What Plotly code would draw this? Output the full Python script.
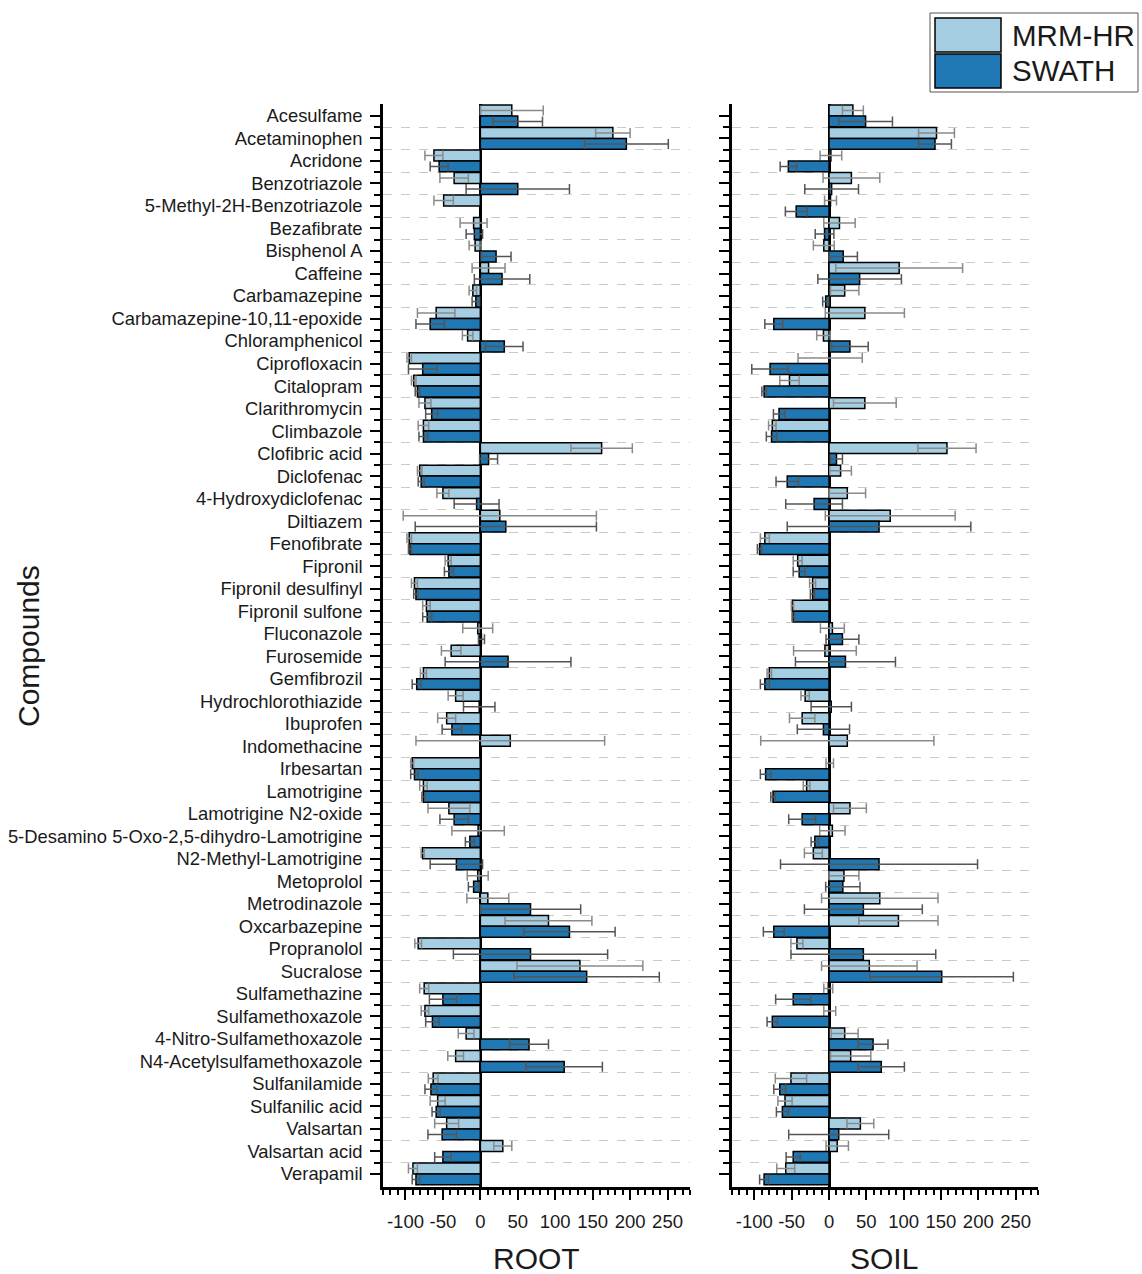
import plotly.graph_objects as go

# ---- data -------------------------------------------------------------
compounds = [
    "Acesulfame", "Acetaminophen", "Acridone", "Benzotriazole",
    "5-Methyl-2H-Benzotriazole", "Bezafibrate", "Bisphenol A", "Caffeine",
    "Carbamazepine", "Carbamazepine-10,11-epoxide", "Chloramphenicol",
    "Ciprofloxacin", "Citalopram", "Clarithromycin", "Climbazole",
    "Clofibric acid", "Diclofenac", "4-Hydroxydiclofenac", "Diltiazem",
    "Fenofibrate", "Fipronil", "Fipronil desulfinyl", "Fipronil sulfone",
    "Fluconazole", "Furosemide", "Gemfibrozil", "Hydrochlorothiazide",
    "Ibuprofen", "Indomethacine", "Irbesartan", "Lamotrigine",
    "Lamotrigine N2-oxide", "5-Desamino 5-Oxo-2,5-dihydro-Lamotrigine",
    "N2-Methyl-Lamotrigine", "Metoprolol", "Metrodinazole", "Oxcarbazepine",
    "Propranolol", "Sucralose", "Sulfamethazine", "Sulfamethoxazole",
    "4-Nitro-Sulfamethoxazole", "N4-Acetylsulfamethoxazole", "Sulfanilamide",
    "Sulfanilic acid", "Valsartan", "Valsartan acid", "Verapamil",
]

root_mrm = [42, 177, -62, -35, -49, -9, -7, 11, -10, -59, -17, -95, -89, -74,
            -76, 162, -81, -50, 26, -95, -43, -88, -72, -3.5, -39, -76, -33,
            -45, 40, -91, -76, -42, -3, -77, -3.5, 10, 91, -83, 133, -75, -74,
            -19, -33, -63, -57, -45, 30, -90]
root_mrm_err = [42, 23, 12, 19, 13, 18, 8, 22, 5, 25, 7, 3, 3, 8, 7, 41, 3, 8,
                129, 3, 4, 4, 5, 20, 13, 4, 10, 12, 126, 2, 5, 28, 35, 2, 14,
                28, 58, 4.5, 84, 6, 5, 10.5, 10.5, 6.5, 10, 16, 12, 6]
root_swath = [50, 195, -55, 50, None, -8, 21, 29, -6, -67, 32, -77, -84, -65,
              -76, 11, -79, -5, 34, -94, -42, -86, -71, 1.5, 37, -85, -1.5,
              -38, None, -88, -76, -35, -14, -32, -9, 67, 119, 67, 142, -50,
              -64, 65, 112, -66, -59, -51, -50, -86]
root_swath_err = [33, 56, 12, 69, None, 11, 20, 37, 5, 19, 25, 19, 3, 8, 6, 12,
                  4, 30, 121, 2, 6, 3, 6, 4, 84, 6, 21, 13, None, 5, 2, 19, 6,
                  35, 7, 67, 61, 103, 97, 18, 9, 26, 51, 8, 5.5, 19, 11, 5]

soil_mrm = [32, 144, 2.5, 30, 2, 14, -7, 94, 21, 48, -7.5, 1.5, -53, 48, -76,
            158, 15.5, 24.5, 82, -86, -42, -22, -49, 4.5, -5.5, -80, -32, -36,
            24.5, 1, -30, 28, 4.5, -21, 20, 68, 93, -43, 54, -1, 1, 21, 29,
            -51, -59, 42, 11, -58]
soil_mrm_err = [14, 24, 14.5, 38, 8, 21, 14, 85, 19, 53, 9, 43, 13, 42, 5, 39,
                14.5, 24.5, 87, 6, 6, 4, 1.5, 16, 42, 3, 5.6, 17, 116, 5, 4.5,
                22, 17, 12, 20, 78, 53, 8, 64, 6, 8, 18, 27, 21, 9.5, 18, 15, 12]
soil_swath = [49, 142, -54.5, 3.5, -44, -6, 19, 41, -4.5, -74, 28, -79, -87,
              -67, -77, 10, -56, -20, 67, -93, -40, -22, -48, 18, 22, -86, 3,
              -7.5, None, -85, -75, -36, -19, 67, 18.5, 46, -74, 46, 151, -48,
              -76, 59, 70, -66, -62.5, 13, -48, -87]
soil_swath_err = [36, 22, 11, 36, 14.5, 12.5, 19, 56, 4, 12, 24.5, 24.5, 3,
                  7.5, 7, 8, 15, 38, 123, 3, 8, 3, 1.5, 22, 67, 6, 27, 35, None,
                  7, 3, 18, 5, 132, 23, 79, 14, 97, 96, 23.5, 7, 20, 31, 8, 8,
                  67, 9.5, 6]

x_tick_values = [-100, -50, 0, 50, 100, 150, 200, 250]
x_tick_labels = ["-100", "-50", "0", "50", "100", "150", "200", "250"]
series_names = ["MRM-HR", "SWATH"]
panel_titles = ["ROOT", "SOIL"]

# ---- styling ----------------------------------------------------------
W, H = 1142, 1274
FONT = "Arial, 'Liberation Sans', sans-serif"
TEXT = "#1a1a1a"
MRM_COLOR = "#A6CEE3"
SWATH_COLOR = "#1F78B4"


def fx(p):
    return p / W


def fy(p):
    return 1 - p / H


ypos = list(range(len(compounds)))

fig = go.Figure()
panels = [
    ("x", "y", root_mrm, root_mrm_err, root_swath, root_swath_err),
    ("x2", "y2", soil_mrm, soil_mrm_err, soil_swath, soil_swath_err),
]
for xa, ya, m, me, s, se in panels:
    fig.add_trace(go.Bar(
        x=m, y=ypos, orientation="h", name=series_names[0],
        marker=dict(color=MRM_COLOR, line=dict(color="black", width=1.5)),
        error_x=dict(type="data", array=me, color="#8a8a8a",
                     thickness=1.5, width=5),
        xaxis=xa, yaxis=ya, offsetgroup="mrm", showlegend=False,
    ))
    fig.add_trace(go.Bar(
        x=s, y=ypos, orientation="h", name=series_names[1],
        marker=dict(color=SWATH_COLOR, line=dict(color="black", width=1.5)),
        error_x=dict(type="data", array=se, color="#555555",
                     thickness=1.5, width=5),
        xaxis=xa, yaxis=ya, offsetgroup="swath", showlegend=False,
    ))

xcommon = dict(
    range=[-130, 280], tickmode="array", tickvals=x_tick_values,
    ticktext=x_tick_labels, tickangle=0, ticks="outside", ticklen=10,
    tickwidth=2, tickcolor="black", showline=True, linewidth=2.5,
    linecolor="black", showgrid=False, zeroline=True, zerolinecolor="black",
    zerolinewidth=2.5, tickfont=dict(size=18.5, family=FONT, color=TEXT),
    ticklabelstandoff=6,
    minor=dict(tickmode="linear", tick0=0, dtick=10, ticks="outside",
               ticklen=5, tickwidth=1.5, tickcolor="black", showgrid=False),
    automargin=False, fixedrange=True,
)
ycommon = dict(
    range=[47.58, -0.53], tickmode="array", tickvals=ypos, ticktext=compounds,
    ticks="outside", ticklen=10, tickwidth=2, tickcolor="black",
    showline=True, linewidth=2.5, linecolor="black", showgrid=False,
    zeroline=False, tickfont=dict(size=18.4, family=FONT, color=TEXT),
    minor=dict(tickmode="array", tickvals=[i + 0.5 for i in range(47)],
               ticks="outside", ticklen=6, tickwidth=1.5, tickcolor="black",
               showgrid=True, griddash="dash", gridcolor="#c9c9c9",
               gridwidth=1),
    automargin=False, fixedrange=True,
    domain=[fy(1187), fy(104)],
)

fig.update_layout(
    width=W, height=H,
    margin=dict(l=0, r=0, t=0, b=0),
    paper_bgcolor="white", plot_bgcolor="white",
    barmode="group", bargap=0.03, bargroupgap=0,
    font=dict(family=FONT, color=TEXT),
    xaxis=dict(xcommon, domain=[fx(383), fx(690)], anchor="y"),
    xaxis2=dict(xcommon, domain=[fx(732), fx(1038)], anchor="y2"),
    yaxis=dict(ycommon, anchor="x", ticklabelstandoff=4),
    yaxis2=dict(ycommon, anchor="x2", matches="y", showticklabels=False),
)

# panel titles and shared y title
annos = [
    dict(text=panel_titles[0], x=fx(536.5), y=fy(1258)),
    dict(text=panel_titles[1], x=fx(884), y=fy(1258)),
    dict(text="Compounds", x=fx(28), y=fy(646), textangle=-90),
]
for a in annos:
    fig.add_annotation(xref="paper", yref="paper", showarrow=False,
                       xanchor="center", yanchor="middle",
                       font=dict(size=30, family=FONT, color=TEXT), **a)

# legend box drawn with shapes
fig.add_shape(type="rect", xref="paper", yref="paper",
              x0=fx(930), x1=fx(1138), y0=fy(92), y1=fy(13),
              line=dict(color="#555555", width=1), fillcolor="white")
for i, (name, col) in enumerate(zip(series_names, [MRM_COLOR, SWATH_COLOR])):
    top = 18 + i * 36
    fig.add_shape(type="rect", xref="paper", yref="paper",
                  x0=fx(935), x1=fx(1001), y0=fy(top + 34), y1=fy(top),
                  line=dict(color="black", width=1.5), fillcolor=col)
    fig.add_annotation(xref="paper", yref="paper", showarrow=False,
                       x=fx(1010), y=fy(top + 17), xanchor="left",
                       yanchor="middle", text=name,
                       font=dict(size=29.5, family=FONT, color=TEXT))

fig.write_html("out.html")
